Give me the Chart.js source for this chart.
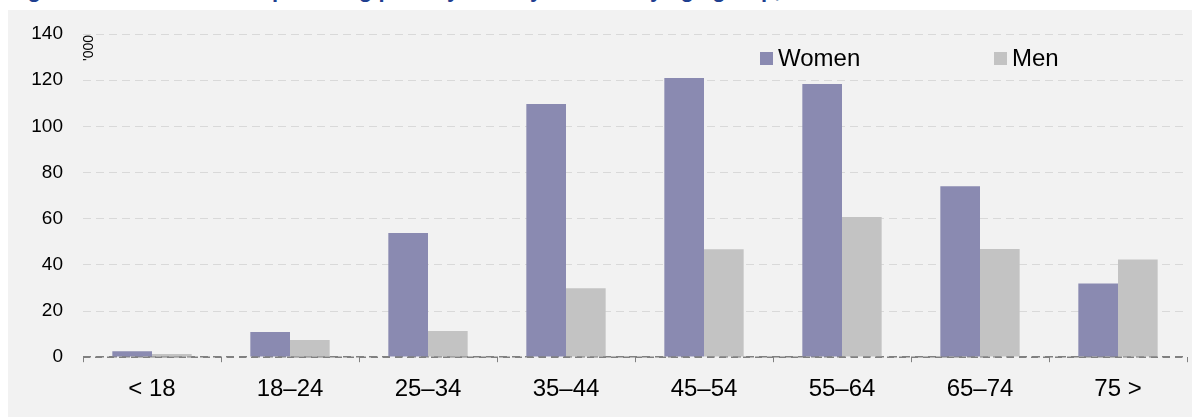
<!DOCTYPE html>
<html><head><meta charset="utf-8">
<script src="https://cdn.jsdelivr.net/npm/chart.js@4.4.0/dist/chart.umd.min.js"></script>
<style>
html,body{margin:0;padding:0;background:#fff;width:1192px;height:417px;overflow:hidden;font-family:"Liberation Sans",Arial,sans-serif;}
#title{position:absolute;left:8px;top:-21px;font-weight:bold;font-size:22px;line-height:22px;color:#1f3f8f;white-space:nowrap;}
#panel{position:absolute;left:8px;top:10px;width:1184px;height:407px;background:#f2f2f2;}
#chart{position:absolute;left:0;top:0;}
.leg{position:absolute;font-size:24px;color:#000;line-height:24px;white-space:nowrap;}
.sw{display:inline-block;width:13px;height:13px;margin-right:5px;vertical-align:1px;}
#unit{position:absolute;left:60px;top:31px;width:40px;text-align:center;font-size:14px;line-height:14px;color:#000;transform:rotate(-90deg);}
</style></head>
<body>
<div id="title">Figure 2: Informal carers providing primary care by sex and by age group, 2012</div>
<div id="panel">
<canvas id="chart" width="1184" height="407"></canvas>
<div id="unit">'000</div>
<div class="leg" style="left:752px;top:36px;"><span class="sw" style="background:#8a8ab1"></span>Women</div>
<div class="leg" style="left:986px;top:36px;"><span class="sw" style="background:#c3c3c3"></span>Men</div>
</div>
<script>
const categories = ['< 18', '18–24', '25–34', '35–44', '45–54', '55–64', '65–74', '75 >'];
const women = [2.6, 10.9, 53.8, 109.7, 120.9, 118.3, 74.1, 31.9];
const men = [1.4, 7.4, 11.3, 29.9, 46.8, 60.7, 46.9, 42.3];
const yTicks = [0, 20, 40, 60, 80, 100, 120, 140];

const zeroLine = {
  id: 'zeroLine',
  afterDatasetsDraw(chart) {
    const {ctx, chartArea, scales} = chart;
    const y = scales.y.getPixelForValue(0);
    ctx.save();
    ctx.strokeStyle = '#808080';
    ctx.lineWidth = 1.5;
    ctx.setLineDash([7, 5]);
    ctx.beginPath();
    ctx.moveTo(chartArea.left, y);
    ctx.lineTo(chartArea.right, y);
    ctx.stroke();
    ctx.restore();
  }
};

new Chart(document.getElementById('chart'), {
  type: 'bar',
  data: {
    labels: categories,
    datasets: [
      {label: 'Women', data: women, backgroundColor: '#8a8ab1', borderWidth: 0},
      {label: 'Men', data: men, backgroundColor: '#c3c3c3', borderWidth: 0}
    ]
  },
  options: {
    responsive: false,
    animation: false,
    devicePixelRatio: 1,
    layout: {padding: {top: 24, right: 5, bottom: 0, left: 0}},
    plugins: {legend: {display: false}, tooltip: {enabled: false}},
    datasets: {bar: {categoryPercentage: 0.575, barPercentage: 1.0}},
    scales: {
      x: {
        afterFit(s) { s.paddingLeft = 0; s.paddingRight = 0; },
        grid: {display: true, offset: true, drawOnChartArea: false, drawTicks: true, tickLength: 5, color: '#808080', lineWidth: 1},
        border: {display: false},
        ticks: {color: '#000', padding: 13, font: {family: '"Liberation Sans", Arial, sans-serif', size: 24}}
      },
      y: {
        min: 0, max: 140,
        afterBuildTicks(s) { s.ticks = yTicks.map(v => ({value: v})); },
        afterFit(s) { s.width = 75; s.paddingTop = 0; s.paddingBottom = 0; },
        grid: {
          drawTicks: false,
          color: c => (c.tick && c.tick.value === 0) ? '#808080' : '#d9d9d9',
          lineWidth: c => (c.tick && c.tick.value === 0) ? 1.5 : 1
        },
        border: {display: false, dash: [8, 5]},
        ticks: {color: '#000', padding: 20, font: {family: '"Liberation Sans", Arial, sans-serif', size: 19}}
      }
    }
  },
  plugins: [zeroLine]
});
</script>
</body></html>
